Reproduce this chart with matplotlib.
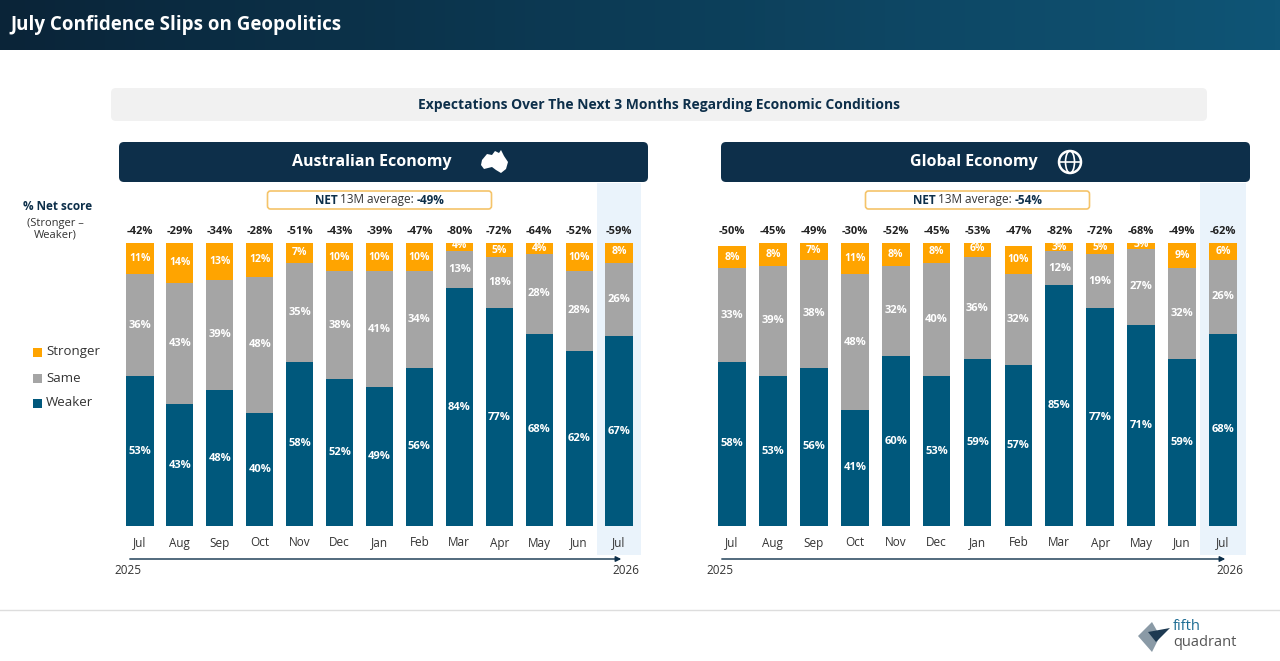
import matplotlib.pyplot as plt
import matplotlib.patches as mpatches
import numpy as np
from matplotlib.colors import LinearSegmentedColormap

plt.rcParams['font.family'] = ['Open Sans', 'DejaVu Sans']

months = ['Jul', 'Aug', 'Sep', 'Oct', 'Nov', 'Dec', 'Jan', 'Feb', 'Mar', 'Apr', 'May', 'Jun', 'Jul']

aus_weaker = [53, 43, 48, 40, 58, 52, 49, 56, 84, 77, 68, 62, 67]
aus_same = [36, 43, 39, 48, 35, 38, 41, 34, 13, 18, 28, 28, 26]
aus_stronger = [11, 14, 13, 12, 7, 10, 10, 10, 4, 5, 4, 10, 8]
aus_net = [-42, -29, -34, -28, -51, -43, -39, -47, -80, -72, -64, -52, -59]

glb_weaker = [58, 53, 56, 41, 60, 53, 59, 57, 85, 77, 71, 59, 68]
glb_same = [33, 39, 38, 48, 32, 40, 36, 32, 12, 19, 27, 32, 26]
glb_stronger = [8, 8, 7, 11, 8, 8, 6, 10, 3, 5, 3, 9, 6]
glb_net = [-50, -45, -49, -30, -52, -45, -53, -47, -82, -72, -68, -49, -62]

C_WEAK = '#00587c'
C_SAME = '#a5a5a5'
C_STRONG = '#ffa400'
NAVY = '#0d2f4a'

W, H = 1280, 661
fig = plt.figure(figsize=(12.8, 6.61), dpi=100)
bg = fig.add_axes([0, 0, 1, 1])

# header gradient
grad = np.linspace(0, 1, 256).reshape(1, -1)
cmap = LinearSegmentedColormap.from_list('hd', ['#0a2438', '#0f5576'])
bg.imshow(grad, extent=[0, W, 50, 0], aspect='auto', cmap=cmap, zorder=0)
bg.set_xlim(0, W)
bg.set_ylim(H, 0)
bg.axis('off')
bg.text(10, 25, 'July Confidence Slips on Geopolitics', color='white', fontsize=13.5,
        fontweight='bold', va='center')

bg.add_patch(mpatches.FancyBboxPatch((111, 88), 1096, 33, boxstyle='round,pad=0,rounding_size=5',
                                     fc='#f1f1f1', ec='none'))
bg.text(659, 104.5, 'Expectations Over The Next 3 Months Regarding Economic Conditions',
        color=NAVY, fontsize=10, fontweight='bold', ha='center', va='center')

bg.plot([0, W], [610, 610], color='#dddddd', lw=1)

# legend
for y, lab, c in [(352, 'Stronger', C_STRONG), (378, 'Same', C_SAME), (403, 'Weaker', C_WEAK)]:
    bg.add_patch(mpatches.Rectangle((33, y - 4.5), 9, 9, fc=c, ec='none'))
    bg.text(46, y, lab, fontsize=9.5, color='#333333', va='center')
bg.text(58, 207, '% Net score', fontsize=8.5, fontweight='bold', color=NAVY, ha='center', va='center')
bg.text(55, 229, '(Stronger \u2013\nWeaker)', fontsize=8, color='#333333', ha='center', va='center',
        linespacing=1.1)

# logo
bg.add_patch(mpatches.Polygon([[1138, 636], [1152, 622], [1160, 636], [1152, 652]], fc='#8a9aa6', ec='none'))
bg.add_patch(mpatches.Polygon([[1148, 632], [1170, 628], [1156, 642]], fc='#1e3a52', ec='none'))
bg.text(1173, 627, 'fifth', fontsize=10.5, color='#1e6d94', va='center')
bg.text(1173, 642, 'quadrant', fontsize=10.5, color='#555555', va='center')


def panel(x0, x1, centers, title, weak, same, strong, net, avg):
    bg.add_patch(mpatches.FancyBboxPatch((x0, 142), x1 - x0, 40, boxstyle='round,pad=0,rounding_size=5',
                                         fc=NAVY, ec='none'))
    mid = (x0 + x1) / 2
    bg.text(mid - 12, 162, title, color='white', fontsize=11.5, fontweight='bold', ha='center', va='center')
    step = (centers[1] - centers[0]) / 12
    left = centers[0] - step / 2
    right = centers[1] + step / 2
    ax = fig.add_axes([left / W, (H - 526) / H, (right - left) / W, 283 / H])
    ax.set_xlim(-0.5, 12.5)
    ax.set_ylim(0, 100)
    ax.axis('off')
    x = np.arange(len(months))
    ppv = 283 / 100
    ax.add_patch(mpatches.Rectangle((11.5 - 0.05, -29 / ppv), 1.1, (555 - 183) / ppv, fc='#eaf3fb',
                                    ec='none', clip_on=False, zorder=0))
    ax.bar(x, weak, 0.68, color=C_WEAK, zorder=2)
    ax.bar(x, same, 0.68, bottom=weak, color=C_SAME, zorder=2)
    bot2 = np.array(weak) + np.array(same)
    ax.bar(x, strong, 0.68, bottom=bot2, color=C_STRONG, zorder=2)
    for i in x:
        ax.text(i, weak[i] / 2, f'{weak[i]}%', color='white', fontsize=8, fontweight='bold',
                ha='center', va='center', zorder=3)
        ax.text(i, weak[i] + same[i] / 2, f'{same[i]}%', color='white', fontsize=8, fontweight='bold',
                ha='center', va='center', zorder=3)
        ax.text(i, bot2[i] + strong[i] / 2, f'{strong[i]}%', color='white', fontsize=7.5,
                fontweight='bold', ha='center', va='center', zorder=3)
        ax.text(i, (526 - 232) / ppv, f'{net[i]}%', color='#222222', fontsize=8, fontweight='bold',
                ha='center', va='center', clip_on=False)
        ax.text(i, -(543 - 526) / ppv, months[i], color='#333333', fontsize=8.5,
                ha='center', va='center', clip_on=False)
    # NET box
    bx = (left + right) / 2
    bg.add_patch(mpatches.FancyBboxPatch((bx - 112, 191), 224, 18, boxstyle='round,pad=0,rounding_size=3',
                                         fc='white', ec='#f5c46a', lw=1.2))
    bg.text(bx - 42, 200, 'NET', fontsize=8.5, fontweight='bold', color=NAVY, ha='right', va='center')
    bg.text(bx - 39, 200, '13M average:', fontsize=8.5, color='#333333', ha='left', va='center')
    bg.text(bx + 37, 200, f'{avg}%', fontsize=8.5, fontweight='bold', color=NAVY, ha='left', va='center')
    # timeline
    bg.annotate('', xy=(centers[1] + 5, 559), xytext=(centers[0] - 13, 559),
                arrowprops=dict(arrowstyle='-|>', color=NAVY, lw=1, mutation_scale=8))
    bg.text(centers[0] - 12, 571, '2025', fontsize=8.5, color='#333333', ha='center', va='center')
    bg.text(centers[1] + 7, 571, '2026', fontsize=8.5, color='#333333', ha='center', va='center')


panel(119, 648, (140, 619), 'Australian Economy', aus_weaker, aus_same, aus_stronger, aus_net, -49)
panel(721, 1250, (732, 1223), 'Global Economy', glb_weaker, glb_same, glb_stronger, glb_net, -54)

# icons
bg.add_patch(mpatches.Polygon([[482, 160], [487, 154], [492, 155], [495, 151], [499, 153], [501, 150],
                               [504, 156], [508, 162], [506, 169], [501, 173], [496, 170], [492, 167],
                               [484, 169], [481, 165]], fc='white', ec='none'))
bg.add_patch(mpatches.Circle((1070, 162), 11, fc='none', ec='white', lw=1.8))
bg.add_patch(mpatches.Ellipse((1070, 162), 9, 22, fc='none', ec='white', lw=1.2))
bg.plot([1059, 1081], [162, 162], color='white', lw=1.2)

fig.savefig('out.png', dpi=100)
